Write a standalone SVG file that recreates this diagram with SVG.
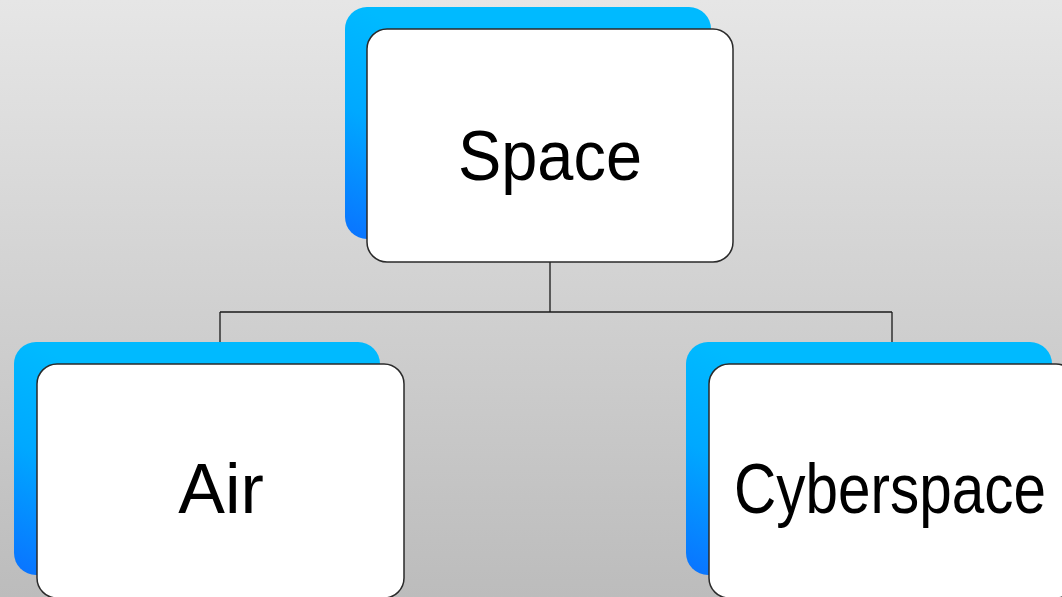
<svg xmlns="http://www.w3.org/2000/svg" width="1062" height="597" viewBox="0 0 1062 597">
  <defs>
    <linearGradient id="bg" x1="0" y1="0" x2="0" y2="1">
      <stop offset="0" stop-color="#e6e6e6"/>
      <stop offset="1" stop-color="#bcbcbc"/>
    </linearGradient>
    <linearGradient id="tab" x1="0.5" y1="0.35" x2="0" y2="1">
      <stop offset="0" stop-color="#00baff"/>
      <stop offset="0.45" stop-color="#00a8ff"/>
      <stop offset="1" stop-color="#0a72ff"/>
    </linearGradient>
    <style>
      .tab { fill: url(#tab); }
      .card { fill: #ffffff; stroke: #2a2a2a; stroke-width: 1.5; }
      .label { font-family: "Liberation Sans", Arial, sans-serif; font-size: 70px; fill: #000000; text-anchor: middle; }
      .wire { fill: none; stroke: #1a1a1a; stroke-width: 1.3; }
    </style>
  </defs>

  <rect width="1062" height="597" fill="url(#bg)"/>

  <g id="connectors">
    <path class="wire" d="M550 262 V312 M220 312 H892 M220 312 V364 M892 312 V364"/>
  </g>

  <g id="node-space">
    <rect class="tab" x="345" y="7" width="366" height="232" rx="22"/>
    <rect class="card" x="367" y="29" width="366" height="233" rx="20"/>
    <text class="label" x="550" y="180" textLength="184" lengthAdjust="spacingAndGlyphs">Space</text>
  </g>

  <g id="node-air">
    <rect class="tab" x="14" y="342" width="366" height="233" rx="22"/>
    <rect class="card" x="37" y="364" width="367" height="234" rx="20"/>
    <text class="label" x="221" y="513">Air</text>
  </g>

  <g id="node-cyberspace">
    <rect class="tab" x="686" y="342" width="366" height="233" rx="22"/>
    <rect class="card" x="709" y="364" width="367" height="234" rx="20"/>
    <text class="label" x="890" y="513" textLength="312" lengthAdjust="spacingAndGlyphs">Cyberspace</text>
  </g>
</svg>
